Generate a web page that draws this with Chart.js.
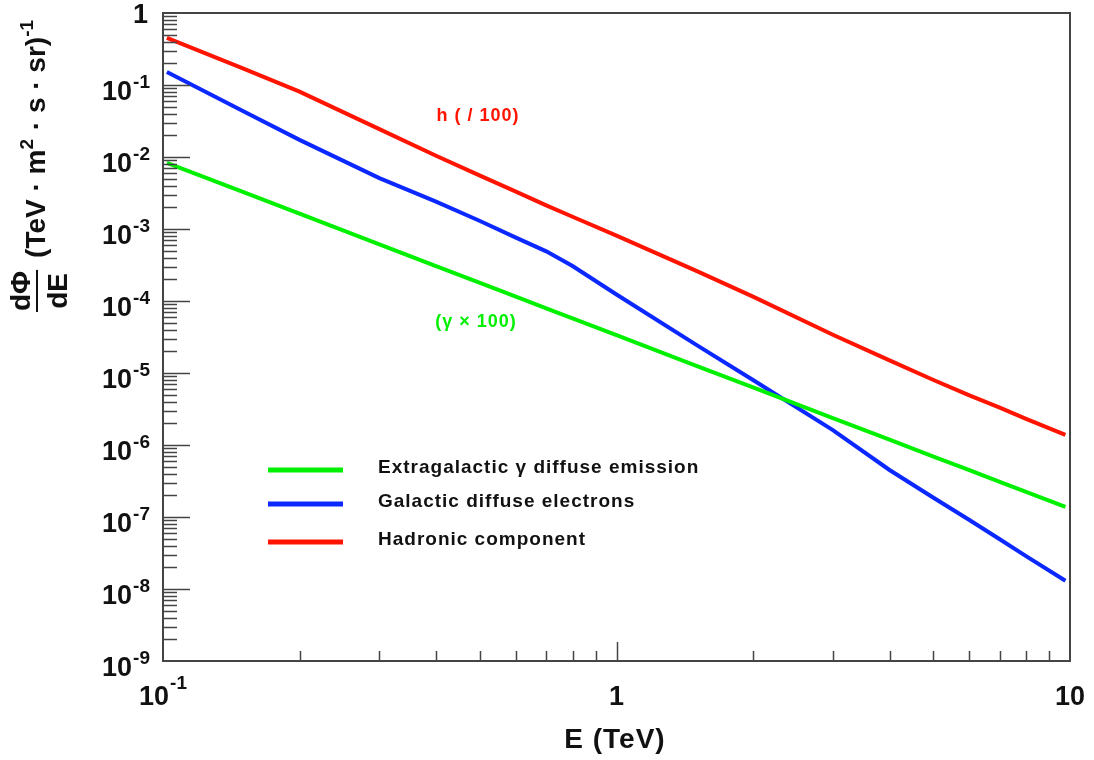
<!DOCTYPE html>
<html>
<head>
<meta charset="utf-8">
<script src="https://cdn.jsdelivr.net/npm/chart.js@4/dist/chart.umd.min.js"></script>
<style>
html, body { margin: 0; padding: 0; background: #fff; }
#chart { display: block; }
</style>
</head>
<body>
<canvas id="chart" width="1094" height="760"></canvas>
<script>
// values (E in TeV, flux in (TeV m^2 s sr)^-1)
const energy = [0.102, 0.15, 0.2, 0.3, 0.4, 0.5, 0.6, 0.7, 0.8, 1, 1.5, 2, 3, 4, 5, 6, 7, 8, 9.77];
const extragalacticGamma = [8.3e-3, 3.27e-3, 1.63e-3, 6.1e-4, 3.06e-4, 1.79e-4, 1.15e-4, 7.9e-5, 5.75e-5, 3.36e-5,
    1.26e-5, 6.3e-6, 2.37e-6, 1.19e-6, 6.9e-7, 4.47e-7, 3.08e-7, 2.23e-7, 1.38e-7];
const galacticElectrons = [0.152, 0.0435, 0.0173, 5.1e-3, 2.4e-3, 1.29e-3, 7.6e-4, 4.9e-4, 3.06e-4, 1.23e-4,
    2.46e-5, 8.0e-6, 1.61e-6, 4.5e-7, 1.85e-7, 9.1e-8, 4.9e-8, 2.86e-8, 1.3e-8];
const hadronic = [0.45, 0.17, 0.081, 0.0244, 0.0104, 5.5e-3, 3.3e-3, 2.13e-3, 1.48e-3, 8.1e-4,
    2.62e-4, 1.15e-4, 3.4e-5, 1.5e-5, 8.0e-6, 4.9e-6, 3.3e-6, 2.3e-6, 1.38e-6];

const seriesLabels = ['Extragalactic γ diffuse emission', 'Galactic diffuse electrons', 'Hadronic component'];
const seriesColors = ['#00f000', '#0a28ff', '#ff1400'];

const xTickValues = [0.1, 1, 10];
const xTickLabels = ['10^-1', '1', '10'];
const yTickValues = [1, 1e-1, 1e-2, 1e-3, 1e-4, 1e-5, 1e-6, 1e-7, 1e-8, 1e-9];
const yTickLabels = ['1', '10^-1', '10^-2', '10^-3', '10^-4', '10^-5', '10^-6', '10^-7', '10^-8', '10^-9'];

const FONT = '"Liberation Sans", Arial, sans-serif';
const AXIS_COLOR = '#444';

function toPoints(values) {
    return energy.map((e, i) => ({ x: e, y: values[i] }));
}

function drawTickLabel(ctx, label, x, baseY, expY, align) {
    const parts = label.split('^');
    const base = parts[0];
    const exp = parts[1] || '';
    ctx.font = `bold 27px ${FONT}`;
    const bw = ctx.measureText(base).width;
    ctx.font = `bold 19px ${FONT}`;
    const ew = exp ? ctx.measureText(exp).width + 1 : 0;
    const total = bw + ew;
    const start = align === 'right' ? x - total : x - total / 2;
    ctx.textAlign = 'left';
    ctx.font = `bold 27px ${FONT}`;
    ctx.fillText(base, start, baseY);
    if (exp) {
        ctx.font = `bold 19px ${FONT}`;
        ctx.fillText(exp, start + bw + 1, expY);
    }
}

const frameAndAxes = {
    id: 'frameAndAxes',
    afterDraw(chart) {
        const ctx = chart.ctx;
        const area = chart.chartArea;
        const xs = chart.scales.x;
        const ys = chart.scales.y;
        ctx.save();

        // minor / major ticks, drawn inward
        ctx.strokeStyle = AXIS_COLOR;
        ctx.lineWidth = 1.5;
        ctx.beginPath();
        for (let k = -9; k < 0; k++) {
            for (let m = 2; m <= 9; m++) {
                const py = Math.round(ys.getPixelForValue(m * Math.pow(10, k))) + 0.5;
                ctx.moveTo(area.left, py);
                ctx.lineTo(area.left + 14, py);
            }
        }
        yTickValues.forEach((v) => {
            if (v === 1 || v === 1e-9) return;
            const py = Math.round(ys.getPixelForValue(v)) + 0.5;
            ctx.moveTo(area.left, py);
            ctx.lineTo(area.left + 27, py);
        });
        for (let k = -1; k < 1; k++) {
            for (let m = 2; m <= 9; m++) {
                const px = Math.round(xs.getPixelForValue(m * Math.pow(10, k))) + 0.5;
                ctx.moveTo(px, area.bottom);
                ctx.lineTo(px, area.bottom - 10);
            }
        }
        const p1 = Math.round(xs.getPixelForValue(1)) + 0.5;
        ctx.moveTo(p1, area.bottom);
        ctx.lineTo(p1, area.bottom - 19);
        ctx.stroke();

        // frame
        ctx.lineWidth = 2;
        ctx.strokeRect(area.left, area.top, area.right - area.left, area.bottom - area.top);

        // tick labels
        ctx.fillStyle = '#111';
        ctx.textBaseline = 'alphabetic';
        yTickValues.forEach((v, i) => {
            const py = ys.getPixelForValue(v);
            const label = yTickLabels[i];
            if (label.includes('^')) {
                drawTickLabel(ctx, label, 150, py + 15, py + 3, 'right');
            } else {
                drawTickLabel(ctx, label, 148, py + 10, py, 'right');
            }
        });
        xTickValues.forEach((v, i) => {
            drawTickLabel(ctx, xTickLabels[i], xs.getPixelForValue(v), 705, 689, 'center');
        });

        // x title
        ctx.font = `bold 28px ${FONT}`;
        ctx.letterSpacing = '1px';
        ctx.textAlign = 'center';
        ctx.fillText('E (TeV)', 615, 748);
        ctx.letterSpacing = '0px';

        // y title: dPhi/dE (TeV . m2 . s . sr)^-1, rotated
        ctx.translate(45, 312);
        ctx.rotate(-Math.PI / 2);
        ctx.textAlign = 'left';
        ctx.font = `bold 28px ${FONT}`;
        const numW = ctx.measureText('dΦ').width;
        const denW = ctx.measureText('dE').width;
        const barW = Math.max(numW, denW) + 2;
        ctx.fillText('dΦ', (barW - numW) / 2, -15);
        ctx.fillText('dE', (barW - denW) / 2, 22);
        ctx.fillRect(0, -9, barW, 2);
        let u = barW + 12;
        const pieces = [['(TeV · m', 28, 0], ['2', 19, -12], [' · s · sr)', 28, 0], ['-1', 19, -12]];
        pieces.forEach(([t, size, dv]) => {
            ctx.font = `bold ${size}px ${FONT}`;
            ctx.fillText(t, u, dv);
            u += ctx.measureText(t).width + (size < 28 ? 1 : 0);
        });
        ctx.restore();
    }
};

const legendAndNotes = {
    id: 'legendAndNotes',
    afterDatasetsDraw(chart) {
        const ctx = chart.ctx;
        const xs = chart.scales.x;
        const ys = chart.scales.y;
        ctx.save();
        const rowY = [470, 504, 542];
        chart.data.datasets.forEach((ds, i) => {
            ctx.strokeStyle = ds.borderColor;
            ctx.lineWidth = 5;
            ctx.beginPath();
            ctx.moveTo(268, rowY[i]);
            ctx.lineTo(343, rowY[i]);
            ctx.stroke();
            ctx.fillStyle = '#111';
            ctx.font = `bold 19px ${FONT}`;
            ctx.letterSpacing = '1px';
            ctx.textAlign = 'left';
            ctx.textBaseline = 'alphabetic';
            ctx.fillText(ds.label, 378, rowY[i] + 3);
        });

        // scale notes next to the curves
        ctx.font = `bold 18px ${FONT}`;
        ctx.textAlign = 'center';
        ctx.textBaseline = 'middle';
        ctx.fillStyle = seriesColors[2];
        ctx.fillText('h ( / 100)', xs.getPixelForValue(0.495), ys.getPixelForValue(0.037));
        ctx.fillStyle = seriesColors[0];
        ctx.fillText('(γ × 100)', xs.getPixelForValue(0.49), ys.getPixelForValue(5.1e-5));
        ctx.restore();
    }
};

const datasets = [extragalacticGamma, galacticElectrons, hadronic].map((values, i) => ({
    label: seriesLabels[i],
    data: toPoints(values),
    borderColor: seriesColors[i],
    borderWidth: 4,
    pointRadius: 0,
    tension: 0,
    fill: false,
}));

new Chart(document.getElementById('chart').getContext('2d'), {
    type: 'line',
    data: { datasets },
    options: {
        responsive: false,
        devicePixelRatio: 1,
        animation: false,
        layout: {
            padding: { left: 163, top: 13, right: 24, bottom: 99 },
        },
        scales: {
            x: { type: 'logarithmic', min: 0.1, max: 10, display: false },
            y: { type: 'logarithmic', min: 1e-9, max: 1, display: false },
        },
        plugins: {
            legend: { display: false },
            tooltip: { enabled: false },
        },
    },
    plugins: [legendAndNotes, frameAndAxes],
});
</script>
</body>
</html>
